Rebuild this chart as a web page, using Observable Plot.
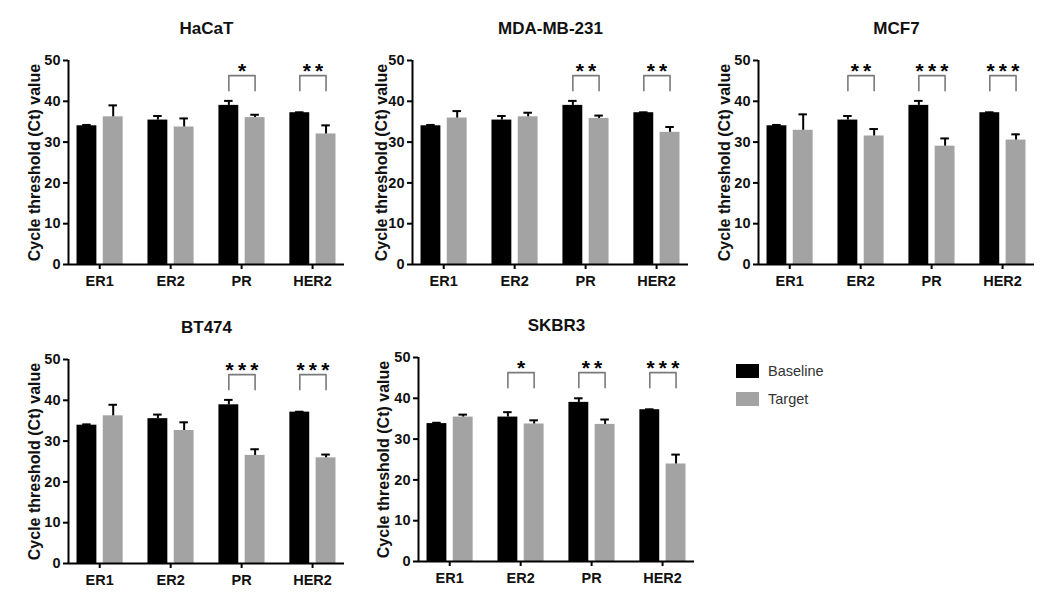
<!DOCTYPE html>
<html>
<head>
<meta charset="utf-8">
<script src="https://cdn.jsdelivr.net/npm/d3@7"></script>
<script src="https://cdn.jsdelivr.net/npm/@observablehq/plot@0.6"></script>
<style>
  html, body { margin: 0; padding: 0; background: #fff; }
  #root { position: relative; width: 1059px; height: 609px; font-family: "Liberation Sans", Arial, sans-serif; }
  .panel { position: absolute; }
  .panel svg [aria-label^="x-axis"] line, .panel svg [aria-label^="x-axis"] path,
  .panel svg [aria-label^="y-axis"] line, .panel svg [aria-label^="y-axis"] path { stroke-width: 2px; stroke: #000; }
  .legend { position: absolute; left: 736px; top: 364px; font-size: 14.5px; color: #333; }
  .legend .item { display: flex; align-items: center; height: 14px; margin-bottom: 14px; }
  .legend .sw { width: 23px; height: 14px; margin-right: 9px; }
</style>
</head>
<body>
<div id="root"></div>
<script>
// ---- data ----
const genes = ["ER1", "ER2", "PR", "HER2"];
const seriesNames = ["Baseline", "Target"];
const cellLines = ["HaCaT", "MDA-MB-231", "MCF7", "BT474", "SKBR3"];
const yLabel = "Cycle threshold (Ct) value";
const yTicks = [0, 10, 20, 30, 40, 50];

const hacatBaseline    = [34.0, 35.4, 39.0, 37.2];
const hacatBaselineErr = [0.2, 1.0, 1.1, 0.1];
const hacatTarget      = [36.2, 33.7, 36.0, 32.0];
const hacatTargetErr   = [2.8, 2.1, 0.7, 2.1];
const hacatSig         = ["", "", "*", "**"];

const mdaBaseline    = [34.0, 35.4, 39.0, 37.2];
const mdaBaselineErr = [0.2, 1.0, 1.1, 0.1];
const mdaTarget      = [35.9, 36.2, 35.8, 32.4];
const mdaTargetErr   = [1.7, 1.0, 0.7, 1.3];
const mdaSig         = ["", "", "**", "**"];

const mcf7Baseline    = [34.0, 35.4, 39.0, 37.2];
const mcf7BaselineErr = [0.2, 1.0, 1.1, 0.1];
const mcf7Target      = [32.9, 31.5, 29.0, 30.5];
const mcf7TargetErr   = [3.9, 1.7, 1.9, 1.4];
const mcf7Sig         = ["", "**", "***", "***"];

const bt474Baseline    = [33.9, 35.5, 38.9, 37.1];
const bt474BaselineErr = [0.2, 1.0, 1.2, 0.1];
const bt474Target      = [36.2, 32.6, 26.5, 25.9];
const bt474TargetErr   = [2.7, 2.0, 1.5, 0.8];
const bt474Sig         = ["", "", "***", "***"];

const skbr3Baseline    = [33.8, 35.4, 39.0, 37.2];
const skbr3BaselineErr = [0.2, 1.2, 1.0, 0.1];
const skbr3Target      = [35.4, 33.7, 33.6, 23.9];
const skbr3TargetErr   = [0.6, 0.9, 1.2, 2.3];
const skbr3Sig         = ["", "*", "**", "***"];

// ---- layout / style ----
const colors = ["#000000", "#a3a3a3"];
const seriesOffset = {Baseline: [-0.32, -0.04], Target: [0.05, 0.33]};
const xDomain = [-0.44, 3.45];
const capHalf = 0.06;
const bracketLow = 42.6, bracketTop = 46.3, starY = 47.3;
const panelPos = [
  {left: 0, top: 0}, {left: 344, top: 0}, {left: 690, top: 0},
  {left: 0, top: 299}, {left: 350, top: 297}
];
const labelOffset = [34, 31, 34, 34, 35];
const mL = 68, mR = 10, mT = 60, mB = 36, frameW = 276, frameH = 204;

const center = (s) => (seriesOffset[s][0] + seriesOffset[s][1]) / 2;

function panel(name, base, baseErr, targ, targErr, sig, pos, lblOff) {
  const rows = genes.flatMap((g, i) => [
    {gene: g, i, series: "Baseline", value: base[i], err: baseErr[i]},
    {gene: g, i, series: "Target", value: targ[i], err: targErr[i]}
  ]);
  const sigRows = genes.map((g, i) => ({i, sig: sig[i]})).filter(d => d.sig);
  const cB = center("Baseline"), cT = center("Target");
  const bracketPts = sigRows.flatMap(d => [
    {k: d.i, x: d.i + cB, y: bracketLow},
    {k: d.i, x: d.i + cB, y: bracketTop},
    {k: d.i, x: d.i + cT, y: bracketTop},
    {k: d.i, x: d.i + cT, y: bracketLow}
  ]);
  const svg = Plot.plot({
    width: mL + frameW + mR,
    height: mT + frameH + mB,
    marginLeft: mL, marginRight: mR, marginTop: mT, marginBottom: mB,
    style: {fontFamily: '"Liberation Sans", Arial, sans-serif', fontSize: "14.5px", fontWeight: "bold", color: "#111", background: "transparent", overflow: "visible"},
    x: {domain: xDomain, ticks: [0, 1, 2, 3], tickFormat: i => genes[i], tickSize: 5, tickPadding: 6, label: null},
    y: {domain: [0, 50], ticks: yTicks, tickSize: 5, tickPadding: 3, label: null},
    color: {domain: seriesNames, range: colors},
    marks: [
      Plot.rectY(rows, {x1: d => d.i + seriesOffset[d.series][0], x2: d => d.i + seriesOffset[d.series][1], y: "value", fill: "series"}),
      Plot.ruleX(rows, {x: d => d.i + center(d.series), y1: "value", y2: d => d.value + d.err, stroke: "#000", strokeWidth: 2}),
      Plot.ruleY(rows, {y: d => d.value + d.err, x1: d => d.i + center(d.series) - capHalf, x2: d => d.i + center(d.series) + capHalf, stroke: "#000", strokeWidth: 2}),
      Plot.line(bracketPts, {x: "x", y: "y", z: "k", stroke: "#7a7a7a", strokeWidth: 1.6}),
      Plot.text(sigRows, {x: d => d.i + (cB + cT) / 2, y: starY, text: d => d.sig.split("").join("\u2009"), fontSize: 21, fontWeight: "bold", fill: "#000"}),
      Plot.ruleY([0], {stroke: "#000", strokeWidth: 2}),
      Plot.ruleX([xDomain[0]], {stroke: "#000", strokeWidth: 2}),
      Plot.text([name], {text: d => d, frameAnchor: "top", lineAnchor: "middle", dy: -32, fontSize: 17, fontWeight: "bold", fill: "#111"}),
      Plot.text([yLabel], {text: d => d, frameAnchor: "left", textAnchor: "middle", lineAnchor: "middle", rotate: -90, dx: -lblOff, fontSize: 16, fontWeight: "bold", fill: "#111"})
    ]
  });
  const wrap = document.createElement("div");
  wrap.className = "panel";
  wrap.style.left = pos.left + "px";
  wrap.style.top = pos.top + "px";
  wrap.appendChild(svg);
  document.getElementById("root").appendChild(wrap);
}

panel(cellLines[0], hacatBaseline, hacatBaselineErr, hacatTarget, hacatTargetErr, hacatSig, panelPos[0], labelOffset[0]);
panel(cellLines[1], mdaBaseline, mdaBaselineErr, mdaTarget, mdaTargetErr, mdaSig, panelPos[1], labelOffset[1]);
panel(cellLines[2], mcf7Baseline, mcf7BaselineErr, mcf7Target, mcf7TargetErr, mcf7Sig, panelPos[2], labelOffset[2]);
panel(cellLines[3], bt474Baseline, bt474BaselineErr, bt474Target, bt474TargetErr, bt474Sig, panelPos[3], labelOffset[3]);
panel(cellLines[4], skbr3Baseline, skbr3BaselineErr, skbr3Target, skbr3TargetErr, skbr3Sig, panelPos[4], labelOffset[4]);

// legend
const legend = document.createElement("div");
legend.className = "legend";
seriesNames.forEach((s, k) => {
  const item = document.createElement("div");
  item.className = "item";
  const sw = document.createElement("div");
  sw.className = "sw";
  sw.style.background = colors[k];
  const lab = document.createElement("span");
  lab.textContent = s;
  item.appendChild(sw);
  item.appendChild(lab);
  legend.appendChild(item);
});
document.getElementById("root").appendChild(legend);
</script>
</body>
</html>
